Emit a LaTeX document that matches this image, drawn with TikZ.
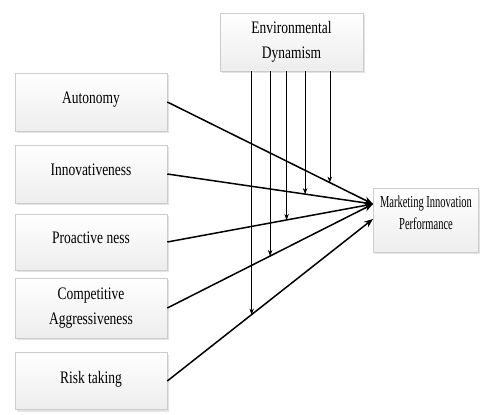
\documentclass[tikz,border=0pt]{standalone}
\usepackage{fontspec}
\setmainfont{Liberation Serif}
\usetikzlibrary{arrows.meta,calc,shadows}
\newcommand{\vstr}[1]{\scalebox{1}[1.3]{#1}}
\newcommand{\vstrb}[1]{\scalebox{1}[1.6]{#1}}
\tikzset{
  box/.style={draw=gray!40, line width=0.6pt, top color=white, bottom color=gray!14,
    inner sep=0pt, align=center, font=\fontsize{13.5}{25}\selectfont,
    drop shadow={opacity=0.22, shadow xshift=1.5pt, shadow yshift=-2pt}},
  main/.style={line width=1.5pt, -{Stealth[length=9pt,width=7pt]}},
  mod/.style={line width=0.6pt, -{Stealth[length=6pt,width=4.5pt]}}
}
\begin{document}
\begin{tikzpicture}[x=1pt,y=-1pt]
\useasboundingbox (0,0) rectangle (480,415);
\node[box, minimum width=152pt, minimum height=58pt] (aut) at (91,102) {\raisebox{8pt}{\vstr{Autonomy}}};
\node[box, minimum width=152pt, minimum height=58pt] (inn) at (91,174) {\raisebox{8pt}{\vstr{Innovativeness}}};
\node[box, minimum width=152pt, minimum height=56pt] (pro) at (91,242) {\raisebox{8pt}{\vstr{Proactive ness}}};
\node[box, minimum width=152pt, minimum height=60pt] (com) at (91,308) {\vstr{Competitive}\\\vstr{Aggressiveness}};
\node[box, minimum width=152pt, minimum height=57pt] (ris) at (91,381) {\raisebox{8pt}{\vstr{Risk taking}}};
\node[box, minimum width=143pt, minimum height=58pt] (env) at (291.5,42) {\vstr{Environmental}\\\vstr{Dynamism}};
\node[box, minimum width=105pt, minimum height=64pt, font=\fontsize{10.5}{22}\selectfont] (mip) at (426,220) {\vstrb{Marketing Innovation}\\\vstrb{Performance}\\[-8pt]\mbox{}};
\coordinate (tipA) at (373,204);
\coordinate (tipB) at (373,219);
\draw[main] (aut.east) -- (tipA);
\draw[main] (inn.east) -- (tipA);
\draw[main] (pro.east) -- (tipA);
\draw[main] (com.east) -- (tipA);
\draw[main] (ris.east) -- (tipB);
\coordinate (m1) at ($(aut.east)!0.79!(tipA)$);
\coordinate (m2) at ($(inn.east)!0.67!(tipA)$);
\coordinate (m3) at ($(pro.east)!0.58!(tipA)$);
\coordinate (m4) at ($(com.east)!0.50!(tipA)$);
\coordinate (m5) at ($(ris.east)!0.41!(tipB)$);
\foreach \m in {m1,m2,m3,m4,m5}
  \draw[mod] (\m |- env.south) -- (\m);
\end{tikzpicture}
\end{document}
